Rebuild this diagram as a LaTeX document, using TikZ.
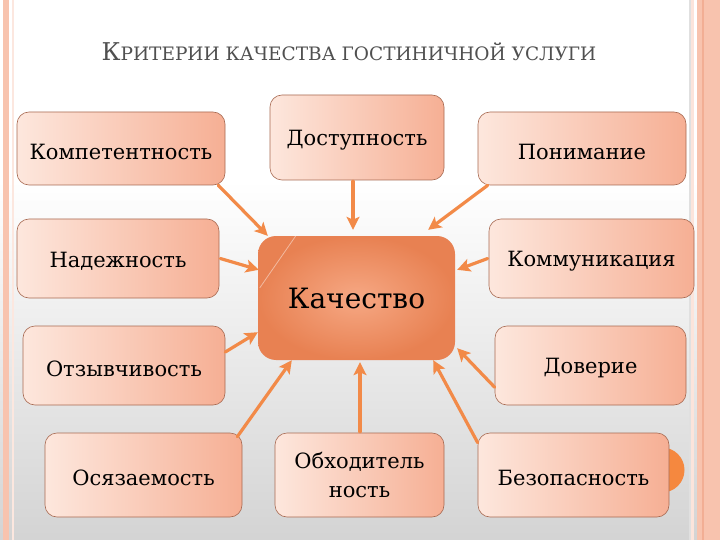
\documentclass[tikz,border=0pt]{standalone}
\usepackage{fontspec}
\setmainfont{DejaVu Serif}
\usetikzlibrary{arrows.meta,calc}
\definecolor{boxL}{HTML}{FDE7DD}
\definecolor{boxR}{HTML}{F6AF94}
\definecolor{boxD}{HTML}{A86A52}
\definecolor{arrowc}{HTML}{F28A48}
\definecolor{kachIn}{HTML}{F6A884}
\definecolor{kachOut}{HTML}{E88152}
\definecolor{stripe}{HTML}{F8C3AE}
\definecolor{stripeD}{HTML}{F2AE94}
\definecolor{titlec}{HTML}{505050}
\definecolor{circ}{HTML}{F5883F}
\newcommand{\lowtxt}[1]{\raisebox{-3pt}[\height][\depth]{#1}}
\begin{document}
\begin{tikzpicture}[x=1pt,y=-1pt,
  box/.style={rounded corners=12pt, draw=boxD, line width=0.6pt,
    left color=boxL, right color=boxR, inner sep=0pt,
    font=\fontsize{21}{29}\selectfont, align=center, text=black},
  kbox/.style={rounded corners=18pt, inner color=kachIn, outer color=kachOut,
    inner sep=0pt, font=\fontsize{28}{30}\selectfont, text=black},
  conn/.style={draw=arrowc, line width=3.2pt, line cap=round,
    -{Stealth[length=13pt,width=13pt,inset=3pt]}}]
\useasboundingbox (0,0) rectangle (720,540);
% background
\fill[white] (0,0) rectangle (720,540);
\shade[top color=white, bottom color=black!17] (0,180) rectangle (720,540);
% borders
\fill[stripe] (3,0) rectangle (9,540);
\fill[stripe!40] (12,0) rectangle (14,540);
\fill[black!12] (689,0) rectangle (691,540);
\fill[stripe!45] (691,0) rectangle (694,540);
\fill[stripe] (697,0) rectangle (720,540);
\fill[stripeD] (702,0) rectangle (704,540);
% title
\node[text=titlec, inner sep=0pt] (title) at (349,52)
  {{\fontsize{24.5}{24.5}\selectfont К}{\fontsize{18.5}{18.5}\selectfont РИТЕРИИ КАЧЕСТВА ГОСТИНИЧНОЙ УСЛУГИ}};
% circle behind
\fill[circ] (662,470) circle (22.5);
% boxes
\node[box, minimum width=208pt, minimum height=73pt] (komp) at (121,148.5) {\lowtxt{Компетентность}};
\node[box, minimum width=174pt, minimum height=85pt] (dost) at (357,137.5) {\lowtxt{Доступность}};
\node[box, minimum width=208pt, minimum height=73pt] (pon) at (582,148.5) {\lowtxt{Понимание}};
\node[box, minimum width=202pt, minimum height=79pt] (nad) at (118,258.5) {\lowtxt{Надежность}};
\node[box, minimum width=205pt, minimum height=79pt] (komm) at (591.5,258.5) {\lowtxt{Коммуникация}};
\node[box, minimum width=202pt, minimum height=79pt] (otz) at (124,365.5) {\lowtxt{Отзывчивость}};
\node[box, minimum width=191pt, minimum height=79pt] (dov) at (590.5,365.5) {\lowtxt{Доверие}};
\node[box, minimum width=197pt, minimum height=84pt] (osya) at (143.5,475) {\lowtxt{Осязаемость}};
\node[box, minimum width=169pt, minimum height=84pt] (obh) at (359.5,475) {Обходитель\\ность};
\node[box, minimum width=191pt, minimum height=84pt] (bez) at (573.5,475) {\lowtxt{Безопасность}};
% center
\node[kbox, minimum width=197pt, minimum height=124pt] (kach) at (356.5,298) {Качество};
\draw[white, opacity=0.45, line width=0.8pt] ($(kach.north west)+(38,0)$) -- ($(kach.north west)+(2,52)$);
% connectors
\draw[conn] ($(komp.south east)+(-7,0)$) -- ($(kach.north west)+(10,0)$);
\draw[conn] ($(dost.south)+(-4,1)$) -- ($(kach.north)+(-3.5,-6)$);
\draw[conn] ($(pon.south west)+(10,0)$) -- ($(kach.north east)+(-27,-6)$);
\draw[conn] ($(nad.east)+(1,0)$) -- ($(kach.north west)+(1,34)$);
\draw[conn] ($(komm.west)+(-1,0)$) -- ($(kach.north east)+(2,34)$);
\draw[conn] ($(otz.east)+(0,-13.5)$) -- ($(kach.south west)+(0,-28)$);
\draw[conn] ($(osya.north east)+(-5,4)$) -- ($(kach.south west)+(34,0)$);
\draw[conn] ($(obh.north)+(0.5,-1)$) -- ($(obh.north |- kach.south)+(0.5,2)$);
\draw[conn] ($(bez.north west)+(0,10)$) -- ($(kach.south east)+(-22,0)$);
\draw[conn] ($(dov.south west)+(0,-18)$) -- ($(kach.south east)+(2,-12)$);
\end{tikzpicture}
\end{document}
